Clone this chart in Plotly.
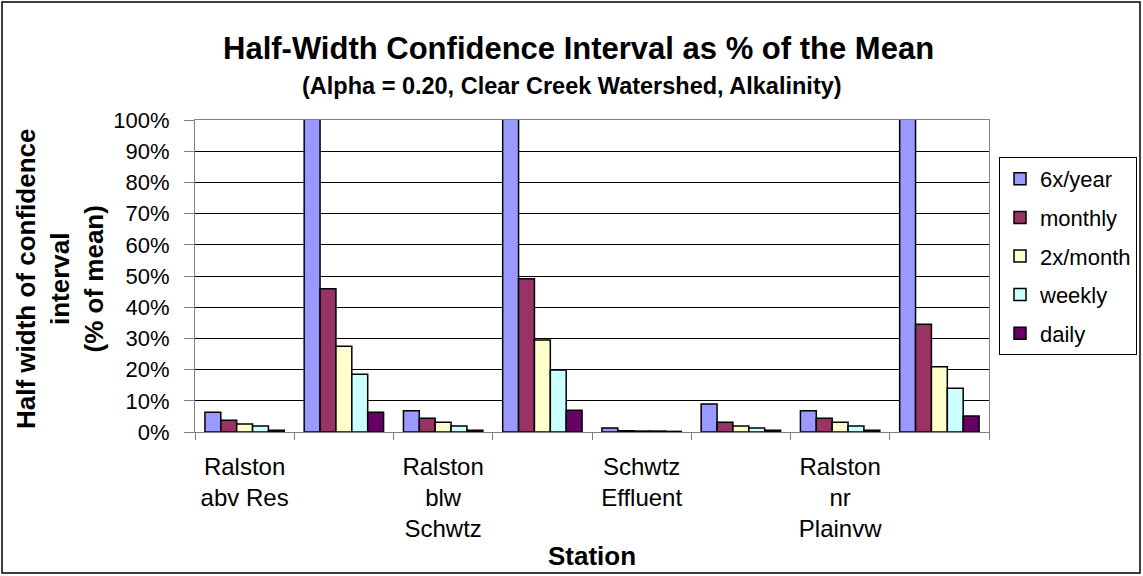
import plotly.graph_objects as go

# ---------------- data ----------------
station_labels = ["Ralston<br>abv Res", "", "Ralston<br>blw<br>Schwtz", "",
                  "Schwtz<br>Effluent", "", "Ralston<br>nr<br>Plainvw", ""]
station_index = list(range(len(station_labels)))

series_names = ["6x/year", "monthly", "2x/month", "weekly", "daily"]
six_per_year = [6.3, 130.0, 6.8, 130.0, 1.3, 9.0, 6.8, 130.0]
monthly = [3.8, 45.9, 4.4, 49.1, 0.4, 3.1, 4.4, 34.5]
twice_month = [2.6, 27.5, 3.1, 29.5, 0.3, 1.9, 3.1, 20.9]
weekly = [1.9, 18.5, 1.9, 19.9, 0.3, 1.3, 1.9, 14.0]
daily = [0.6, 6.3, 0.6, 7.0, 0.2, 0.6, 0.6, 5.1]
series_values = [six_per_year, monthly, twice_month, weekly, daily]
series_colors = ["#9999FF", "#993366", "#FFFFCC", "#CCFFFF", "#660066"]

y_ticks = list(range(0, 101, 10))
y_ticktext = [f"{v}%" for v in y_ticks]

FONT = "Liberation Sans, Arial, sans-serif"

fig = go.Figure()
for name, vals, col in zip(series_names, series_values, series_colors):
    fig.add_trace(go.Bar(
        x=station_index, y=vals, name=name, legendgroup=name,
        marker=dict(color=col, line=dict(color="black", width=1.5)),
    ))

L, T = 195, 120
PW, PH = 794, 312
W, H = 1143, 576

def px(x):
    return (x - L) / PW

def py(y):
    return (T + PH - y) / PH

fig.update_layout(
    width=W, height=H,
    margin=dict(l=L, r=W - L - PW, t=T, b=H - T - PH, autoexpand=False),
    paper_bgcolor="white", plot_bgcolor="white",
    barmode="group", bargap=0.2, bargroupgap=0,
    font=dict(family=FONT, color="black"),
    legend=dict(
        x=px(999), y=py(157), xanchor="left", yanchor="top",
        bordercolor="black", borderwidth=1,
        font=dict(size=22, family=FONT),
        traceorder="grouped", tracegroupgap=7,
    ),
    showlegend=True,
)

fig.update_xaxes(
    range=[-0.5, len(station_labels) - 0.5],
    tickmode="array", tickvals=station_index, ticktext=station_labels,
    ticks="", showgrid=False, zeroline=False,
    showline=True, linecolor="#808080", linewidth=1, mirror=True,
    tickfont=dict(size=24, family=FONT),
    ticklabelstandoff=13,
    minor=dict(tickvals=[i - 0.5 for i in range(len(station_labels) + 1)],
               ticks="outside", ticklen=7, tickcolor="#808080", tickwidth=1,
               showgrid=False),
)
fig.update_yaxes(
    range=[0, 100], tickmode="array", tickvals=y_ticks, ticktext=y_ticktext,
    ticks="outside", ticklen=10, tickcolor="#808080", tickwidth=1,
    ticklabelstandoff=10,
    showgrid=True, gridcolor="black", gridwidth=1, zeroline=False,
    showline=True, linecolor="#808080", linewidth=1, mirror=True,
    tickfont=dict(size=22, family=FONT),
)

annotations = [
    dict(text="<b>Half-Width Confidence Interval as % of the Mean</b>",
         x=px(578), y=py(49), xref="paper", yref="paper", showarrow=False,
         xanchor="center", yanchor="middle", font=dict(size=31, family=FONT)),
    dict(text="<b>(Alpha = 0.20, Clear Creek Watershed, Alkalinity)</b>",
         x=px(572), y=py(86), xref="paper", yref="paper", showarrow=False,
         xanchor="center", yanchor="middle", font=dict(size=23.5, family=FONT)),
    dict(text="<b>Half width of confidence<br>interval<br>(% of mean)</b>",
         x=px(60), y=py(279), xref="paper", yref="paper", showarrow=False,
         textangle=-90, xanchor="center", yanchor="middle",
         font=dict(size=26, family=FONT)),
    dict(text="<b>Station</b>",
         x=px(592), y=py(556), xref="paper", yref="paper", showarrow=False,
         xanchor="center", yanchor="middle", font=dict(size=26, family=FONT)),
]
fig.update_layout(annotations=annotations)

fig.add_shape(type="rect", xref="paper", yref="paper",
              x0=px(2), x1=px(1140), y0=py(573), y1=py(2),
              line=dict(color="black", width=1.5), fillcolor="rgba(0,0,0,0)",
              layer="above")

fig.write_html(
    "out.html",
    config={"displayModeBar": False},
    post_script="document.body.style.margin='0';document.body.style.overflow='hidden';",
)
